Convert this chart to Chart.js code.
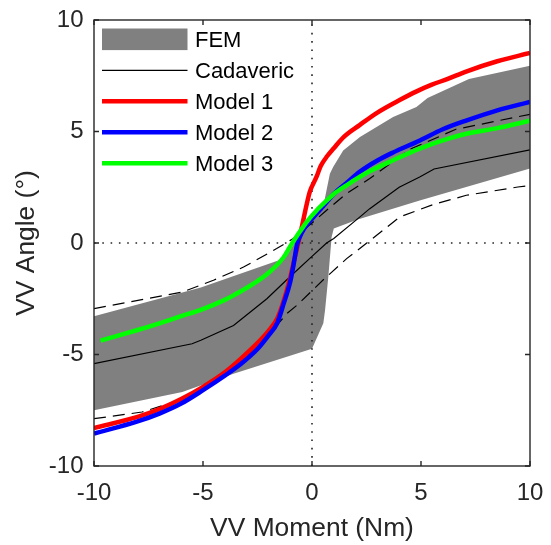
<!DOCTYPE html>
<html><head><meta charset="utf-8">
<script src="https://cdn.jsdelivr.net/npm/chart.js@4.4.1/dist/chart.umd.min.js"></script>
<style>html,body{margin:0;padding:0;background:#fff;}#wrap{width:551px;height:545px;}</style>
</head><body><div id="wrap"><canvas id="c" width="551" height="545"></canvas></div>
<script>
// ---- data ----
const xTicks = [-10, -5, 0, 5, 10];
const yTicks = [-10, -5, 0, 5, 10];

const femUpperX = [-10, -5.1, -1.45, -1.0, -0.5, 0, 0.55, 0.82, 0.97, 1.43, 2.2, 3.72, 4.79, 5.3, 7.2, 10];
const femUpperY = [-3.29, -2.0, -0.75, -0.3, 0.4, 1.05, 1.8, 3.11, 3.41, 4.15, 4.75, 5.65, 6.1, 6.5, 7.35, 7.95];
const femLowerX = [-10, -5.95, -3.6, 0, 0.52, 0.6, 0.75, 0.9, 1.0, 2.1, 4.94, 10];
const femLowerY = [-7.5, -6.68, -5.86, -4.74, -3.6, -3.0, -1.5, 0.27, 0.65, 1.05, 1.91, 3.34];

const cadX = [-10, -5.5, -5.1, -3.6, -2.07, -1.0, 0, 0.67, 1.0, 2.2, 2.65, 4.0, 4.94, 5.6, 10];
const cadY = [-5.41, -4.52, -4.36, -3.7, -2.5, -1.5, -0.6, 0, 0.2, 1.17, 1.54, 2.5, 2.96, 3.32, 4.18];

const cadUpX = [-10, -5.95, -4.52, -3.14, -1.62, -0.86, 0, 0.67, 1.59, 2.65, 4.49, 6.6, 10];
const cadUpY = [-2.94, -2.2, -1.67, -1.08, -0.25, 0.2, 0.9, 1.47, 2.22, 2.89, 4.2, 5.1, 5.77];
const cadLoX = [-10, -7.8, -5.5, -3.3, -2.2, -1.62, -1.16, -0.7, 0.52, 1.59, 2.65, 4.03, 5.55, 7.08, 9.44, 10];
const cadLoY = [-7.88, -7.58, -6.88, -5.38, -4.22, -3.7, -3.17, -2.8, -1.65, -0.7, 0.1, 1.17, 1.72, 2.14, 2.51, 2.58];

const m1X = [-10, -8, -7, -6, -5, -4, -3, -2, -1.6, -1.3, -1.0, -0.8, -0.63, -0.45, -0.24, -0.1, 0.2, 0.4, 0.7, 1.0, 1.45, 2.2, 3.0, 4.0, 4.8, 5.5, 6.2, 7.1, 8.5, 10];
const m1Y = [-8.3, -7.8, -7.45, -7.0, -6.45, -5.8, -4.95, -3.95, -3.4, -2.6, -1.55, -0.7, 0, 0.8, 1.75, 2.3, 2.95, 3.45, 3.9, 4.25, 4.75, 5.3, 5.85, 6.4, 6.8, 7.1, 7.35, 7.7, 8.15, 8.52];

const m2X = [-10, -8, -7, -6, -5, -4, -3.3, -2.5, -2.0, -1.6, -1.3, -1.0, -0.85, -0.68, -0.45, -0.2, 0.1, 0.6, 1.0, 1.6, 2.2, 3.0, 3.7, 4.95, 6.0, 7.1, 8.5, 10];
const m2Y = [-8.55, -8.0, -7.65, -7.2, -6.6, -5.95, -5.45, -4.75, -4.15, -3.6, -2.72, -1.75, -1.0, -0.05, 0.5, 0.85, 1.2, 1.75, 2.2, 2.7, 3.2, 3.7, 4.05, 4.6, 5.1, 5.5, 5.95, 6.33];

const m3X = [-9.7, -8, -7, -6, -5.1, -4, -3.6, -2.07, -1.31, -1.0, -0.7, -0.24, 0.2, 0.67, 1.0, 1.6, 2.2, 2.65, 3.72, 4.94, 6.0, 7.08, 8.5, 10];
const m3Y = [-4.38, -3.9, -3.6, -3.28, -3.0, -2.55, -2.35, -1.4, -0.65, -0.15, 0.3, 0.95, 1.45, 1.9, 2.2, 2.6, 2.97, 3.22, 3.71, 4.23, 4.6, 4.9, 5.15, 5.48];

// ---- helpers ----
function pts(xs, ys) { return xs.map((x, i) => ({ x: x, y: ys[i] })); }
const femShape = pts(femUpperX, femUpperY).concat(pts(femLowerX, femLowerY).reverse());

const FONT = "'Liberation Sans', Arial, Helvetica, sans-serif";
const AX = '#262626';

const matlabPlugin = {
  id: 'matlab',
  afterDatasetDraw(chart, args) {
    if (args.index !== 0) return;
    const ctx = chart.ctx, a = chart.chartArea;
    const x0 = chart.scales.x.getPixelForValue(0);
    const y0 = chart.scales.y.getPixelForValue(0);
    ctx.save();
    ctx.strokeStyle = AX; ctx.lineWidth = 1.6; ctx.setLineDash([1.6, 6.7]);
    ctx.beginPath(); ctx.moveTo(a.left, y0); ctx.lineTo(a.right, y0); ctx.stroke();
    ctx.beginPath(); ctx.moveTo(x0, a.bottom); ctx.lineTo(x0, a.top); ctx.stroke();
    ctx.restore();
  },
  afterDraw(chart) {
    const ctx = chart.ctx, a = chart.chartArea;
    const sx = chart.scales.x, sy = chart.scales.y;
    ctx.save();
    ctx.strokeStyle = AX; ctx.lineWidth = 1.4; ctx.setLineDash([]);
    ctx.strokeRect(a.left, a.top, a.right - a.left, a.bottom - a.top);
    const tl = 5;
    ctx.beginPath();
    xTicks.forEach(v => {
      const p = sx.getPixelForValue(v);
      ctx.moveTo(p, a.bottom); ctx.lineTo(p, a.bottom - tl);
      ctx.moveTo(p, a.top); ctx.lineTo(p, a.top + tl);
    });
    yTicks.forEach(v => {
      const p = sy.getPixelForValue(v);
      ctx.moveTo(a.left, p); ctx.lineTo(a.left + tl, p);
      ctx.moveTo(a.right, p); ctx.lineTo(a.right - tl, p);
    });
    ctx.stroke();
    // legend (inside axes, top-left, no box)
    const items = chart.data.datasets.filter(d => d.inLegend !== false);
    const lx0 = a.left + 8, lx1 = a.left + 93.5, tx = a.left + 101;
    ctx.font = '22px ' + FONT;
    ctx.textBaseline = 'middle'; ctx.textAlign = 'left';
    items.forEach((d, i) => {
      const cy = a.top + 19.3 + 31 * i;
      if (d.legendPatch) {
        ctx.fillStyle = d.backgroundColor;
        ctx.fillRect(lx0, cy - 10.8, lx1 - lx0, 21.6);
      } else {
        ctx.strokeStyle = d.borderColor; ctx.lineWidth = d.borderWidth;
        ctx.beginPath(); ctx.moveTo(lx0, cy); ctx.lineTo(lx1, cy); ctx.stroke();
      }
      ctx.fillStyle = '#000';
      ctx.fillText(d.label, tx, cy + 1.5);
    });
    ctx.restore();
  }
};

const lineBase = { showLine: true, pointRadius: 0, pointHoverRadius: 0, fill: false };

new Chart(document.getElementById('c'), {
  type: 'scatter',
  data: {
    datasets: [
      Object.assign({}, lineBase, { label: 'FEM', data: femShape, fill: 'shape', backgroundColor: '#808080', borderColor: 'rgba(0,0,0,0)', borderWidth: 0, order: 6, legendPatch: true }),
      Object.assign({}, lineBase, { label: 'Cadaveric', data: pts(cadX, cadY), borderColor: '#000000', borderWidth: 1.2, order: 5 }),
      Object.assign({}, lineBase, { label: 'Cadaveric + SD', data: pts(cadUpX, cadUpY), borderColor: '#000000', borderWidth: 1.2, borderDash: [12, 7], order: 4, inLegend: false }),
      Object.assign({}, lineBase, { label: 'Cadaveric - SD', data: pts(cadLoX, cadLoY), borderColor: '#000000', borderWidth: 1.2, borderDash: [12, 7], order: 4, inLegend: false }),
      Object.assign({}, lineBase, { label: 'Model 1', data: pts(m1X, m1Y), borderColor: '#ff0000', borderWidth: 4.5, cubicInterpolationMode: 'monotone', order: 3 }),
      Object.assign({}, lineBase, { label: 'Model 2', data: pts(m2X, m2Y), borderColor: '#0000ff', borderWidth: 4.5, cubicInterpolationMode: 'monotone', order: 2 }),
      Object.assign({}, lineBase, { label: 'Model 3', data: pts(m3X, m3Y), borderColor: '#00ff00', borderWidth: 4.5, cubicInterpolationMode: 'monotone', order: 1 })
    ]
  },
  options: {
    responsive: false, animation: false, devicePixelRatio: 1,
    layout: { padding: { top: 20, right: 21, left: 0, bottom: 0 } },
    plugins: { legend: { display: false }, tooltip: { enabled: false } },
    events: [],
    scales: {
      x: {
        type: 'linear', position: 'bottom', min: -10, max: 10,
        afterBuildTicks(s) { s.ticks = xTicks.map(v => ({ value: v })); },
        ticks: { font: { family: FONT, size: 24 }, color: AX, padding: 12.9, maxRotation: 0, autoSkip: false },
        grid: { display: false, drawTicks: false }, border: { display: false },
        title: { display: true, text: 'VV Moment (Nm)', font: { family: FONT, size: 26.4 }, color: AX, padding: { top: 0, bottom: 0 } },
        afterFit(s) { s.height = 79; s.paddingLeft = 0; s.paddingRight = 0; }
      },
      y: {
        type: 'linear', position: 'left', min: -10, max: 10,
        afterBuildTicks(s) { s.ticks = yTicks.map(v => ({ value: v })); },
        ticks: { font: { family: FONT, size: 24 }, color: AX, padding: 10.5, autoSkip: false },
        grid: { display: false, drawTicks: false }, border: { display: false },
        title: { display: true, text: 'VV Angle (°)', font: { family: FONT, size: 26.4 }, color: AX, padding: { top: 11, bottom: 0 } },
        afterFit(s) { s.width = 94; s.paddingTop = 0; s.paddingBottom = 0; }
      }
    }
  },
  plugins: [matlabPlugin]
});
</script>
</body></html>
